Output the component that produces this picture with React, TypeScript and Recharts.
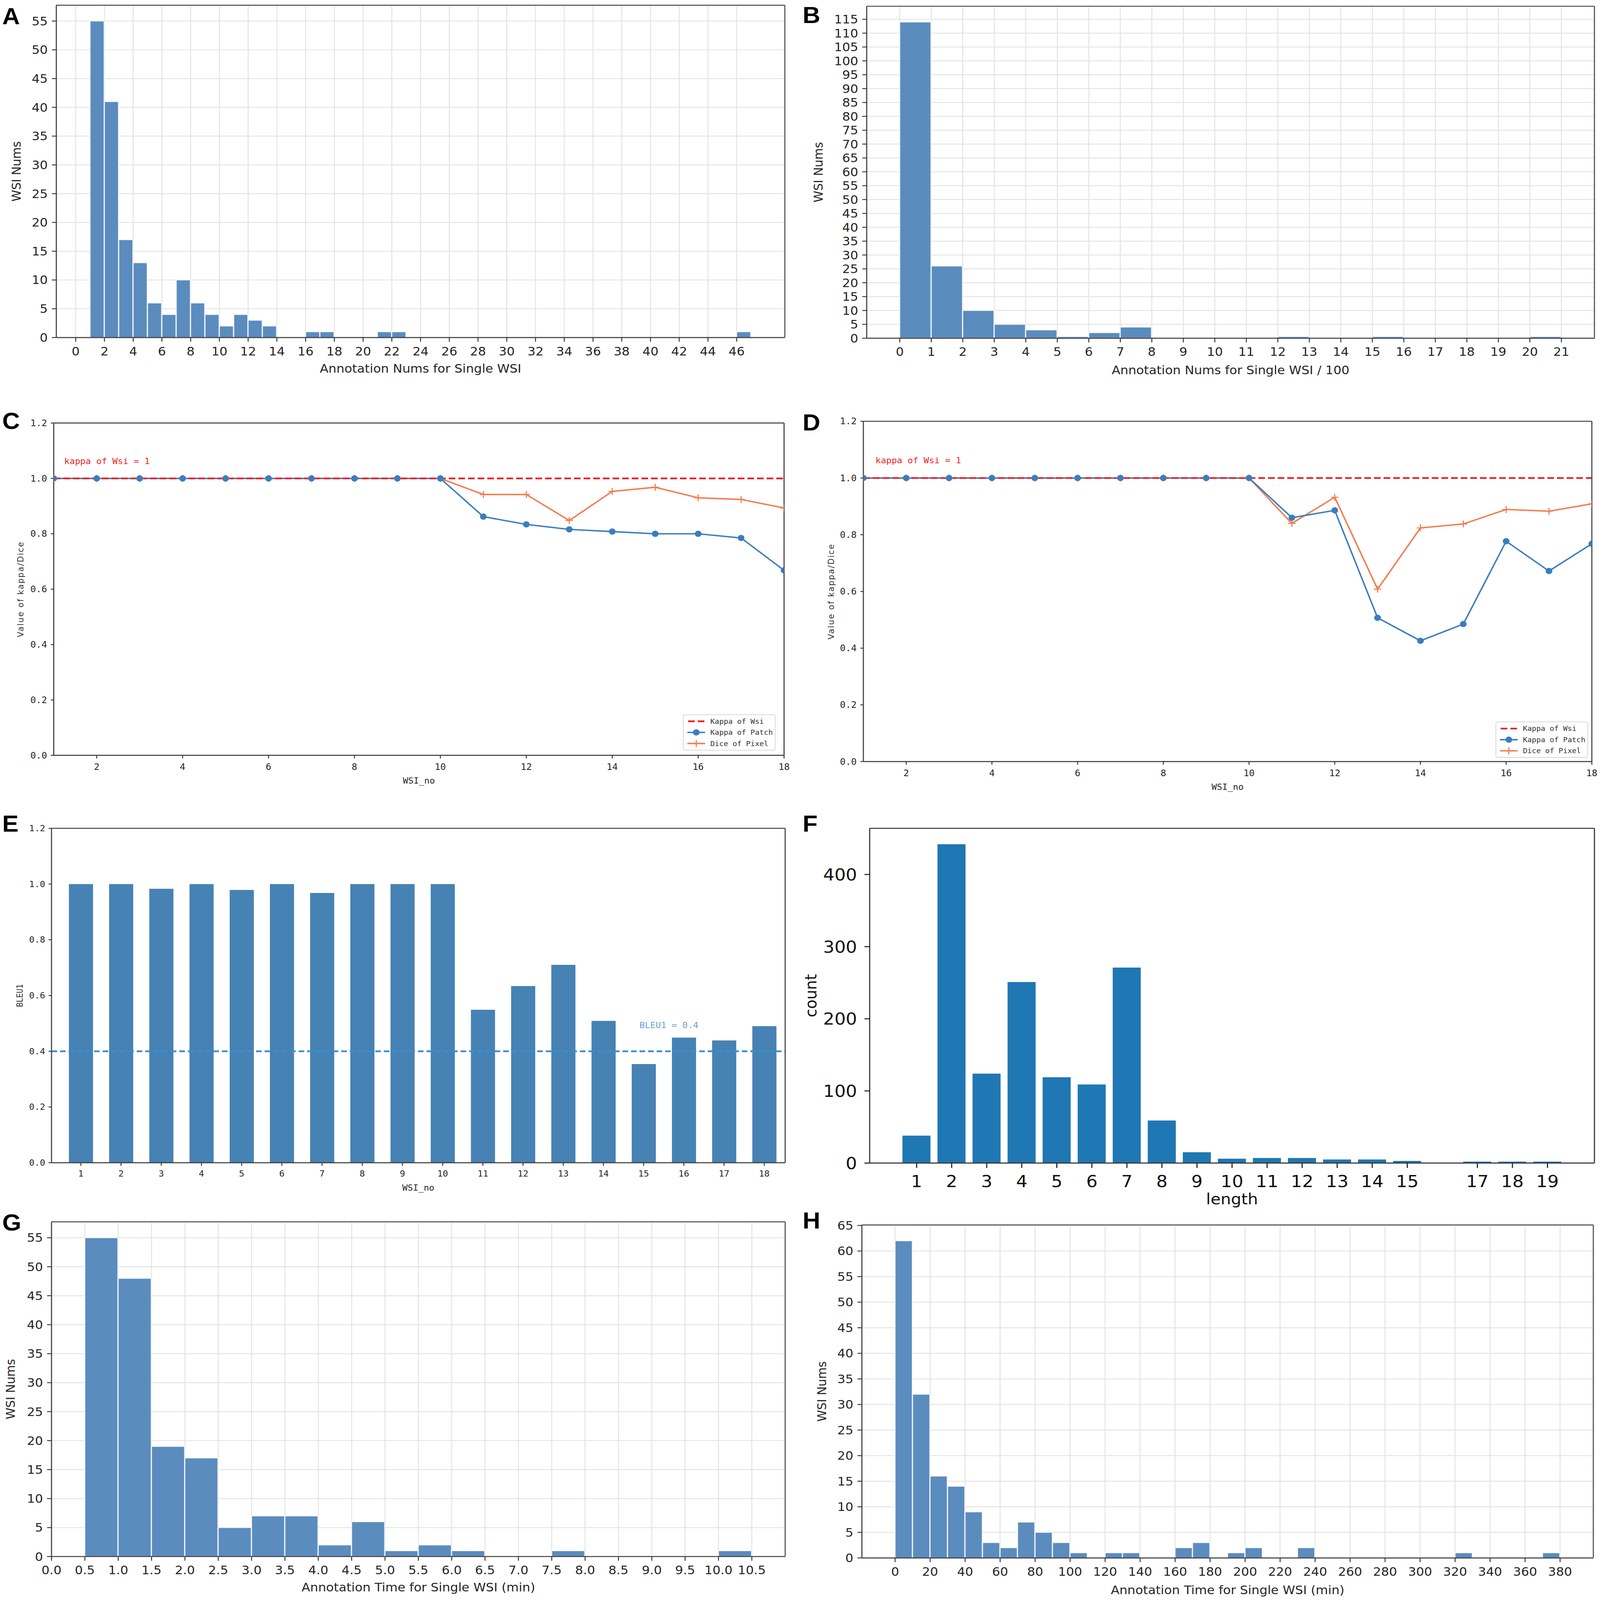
// Eight-panel figure: annotation histograms (A, B, G, H), kappa/dice lines (C, D),
// BLEU1 bars (E) and caption length counts (F).
import React from 'react';
import {
  BarChart,
  Bar,
  LineChart,
  Line,
  XAxis,
  YAxis,
  CartesianGrid,
  ReferenceLine,
  ReferenceDot,
  Legend,
} from 'recharts';

// ── data ────────────────────────────────────────────────────────────
// A: annotation nums per WSI (bin width 1)
const aBinStart = [1, 2, 3, 4, 5, 6, 7, 8, 9, 10, 11, 12, 13, 16, 17, 21, 22, 46];
const aCounts = [55, 41, 17, 13, 6, 4, 10, 6, 4, 2, 4, 3, 2, 1, 1, 1, 1, 1];
const aXTicks = [0, 2, 4, 6, 8, 10, 12, 14, 16, 18, 20, 22, 24, 26, 28, 30, 32, 34, 36, 38, 40, 42, 44, 46];
const aYTicks = [0, 5, 10, 15, 20, 25, 30, 35, 40, 45, 50, 55];

// B: annotation nums / 100 (bin width 1)
const bBinStart = [0, 1, 2, 3, 4, 5, 6, 7, 12, 15, 20];
const bCounts = [114, 26, 10, 5, 3, 0.6, 2, 4, 0.6, 0.6, 0.6];
const bXTicks = [0, 1, 2, 3, 4, 5, 6, 7, 8, 9, 10, 11, 12, 13, 14, 15, 16, 17, 18, 19, 20, 21];
const bYTicks = [0, 5, 10, 15, 20, 25, 30, 35, 40, 45, 50, 55, 60, 65, 70, 75, 80, 85, 90, 95, 100, 105, 110, 115];

// C / D: kappa & dice per WSI
const wsiNo = [1, 2, 3, 4, 5, 6, 7, 8, 9, 10, 11, 12, 13, 14, 15, 16, 17, 18];
const kappaWsi = 1;
const cPatch = [1, 1, 1, 1, 1, 1, 1, 1, 1, 1, 0.862, 0.834, 0.816, 0.808, 0.8, 0.8, 0.785, 0.668];
const cDice = [1, 1, 1, 1, 1, 1, 1, 1, 1, 1, 0.942, 0.942, 0.848, 0.953, 0.968, 0.93, 0.924, 0.893];
const dPatch = [1, 1, 1, 1, 1, 1, 1, 1, 1, 1, 0.86, 0.886, 0.507, 0.426, 0.485, 0.777, 0.672, 0.768];
const dDice = [1, 1, 1, 1, 1, 1, 1, 1, 1, 1, 0.84, 0.932, 0.608, 0.824, 0.838, 0.889, 0.883, 0.909];
const kappaXTicks = [2, 4, 6, 8, 10, 12, 14, 16, 18];
const unitYTicks = [0, 0.2, 0.4, 0.6, 0.8, 1.0, 1.2];

// E: BLEU1 per WSI
const eBleu = [1, 1, 0.983, 1, 0.979, 1, 0.968, 1, 1, 1, 0.549, 0.634, 0.71, 0.509, 0.354, 0.449, 0.439, 0.49];
const bleuThreshold = 0.4;

// F: caption length counts
const fLength = [1, 2, 3, 4, 5, 6, 7, 8, 9, 10, 11, 12, 13, 14, 15, 17, 18, 19];
const fCount = [38, 442, 124, 251, 119, 109, 271, 59, 15, 6, 7, 7, 5, 5, 3, 2, 2, 2];
const fYTicks = [0, 100, 200, 300, 400];

// G: annotation time (min), bin width 0.5
const gBinStart = [0.5, 1.0, 1.5, 2.0, 2.5, 3.0, 3.5, 4.0, 4.5, 5.0, 5.5, 6.0, 7.5, 10.0];
const gCounts = [55, 48, 19, 17, 5, 7, 7, 2, 6, 1, 2, 1, 1, 1];
const gXTicks = [0, 0.5, 1, 1.5, 2, 2.5, 3, 3.5, 4, 4.5, 5, 5.5, 6, 6.5, 7, 7.5, 8, 8.5, 9, 9.5, 10, 10.5];
const gYTicks = [0, 5, 10, 15, 20, 25, 30, 35, 40, 45, 50, 55];

// H: annotation time (min), bin width 10
const hBinStart = [0, 10, 20, 30, 40, 50, 60, 70, 80, 90, 100, 120, 130, 160, 170, 190, 200, 230, 320, 370];
const hCounts = [62, 32, 16, 14, 9, 3, 2, 7, 5, 3, 1, 1, 1, 2, 3, 1, 2, 2, 1, 1];
const hXTicks = [0, 20, 40, 60, 80, 100, 120, 140, 160, 180, 200, 220, 240, 260, 280, 300, 320, 340, 360, 380];
const hYTicks = [0, 5, 10, 15, 20, 25, 30, 35, 40, 45, 50, 55, 60, 65];

// ── styling ─────────────────────────────────────────────────────────
const FIG_W = 4318;
const FIG_H = 4603;
const SANS = "'DejaVu Sans', sans-serif";
const MONO = "'DejaVu Sans Mono', monospace";
const HIST_BLUE = '#5b8cbe';
const BLUE = '#3a7dbf';
const ORANGE = '#f47c50';
const RED = '#ee2228';
const INK = '#262626';

const MT = 24;
const MR = 10;
const MB = 16;

type Plot = [number, number, number, number];

function frameBox(plot: Plot, yw: number, xh: number) {
  const [x0, y0, x1, y1] = plot;
  return {
    left: x0 - yw,
    top: y0 - MT,
    width: x1 - x0 + yw + MR,
    height: y1 - y0 + MT + xh + MB,
  };
}

interface HistProps {
  plot: Plot;
  yw: number;
  xh: number;
  yOff: number;
  xDomain: [number, number];
  yDomain: [number, number];
  xTicks: number[];
  yTicks: number[];
  xFmt?: (v: number) => string;
  starts: number[];
  counts: number[];
  binWidth: number;
  xLabel: string;
  yLabel: string;
}

function Histogram(p: HistProps) {
  const b = frameBox(p.plot, p.yw, p.xh);
  const data = p.starts.map((s, i) => ({ mid: s + p.binWidth / 2, n: p.counts[i] }));
  const plotW = p.plot[2] - p.plot[0];
  const binPx = (plotW * p.binWidth) / (p.xDomain[1] - p.xDomain[0]);
  const tick = { fontSize: 34, fill: INK, fontFamily: SANS };
  return (
    <div style={{ position: 'absolute', left: b.left, top: b.top }}>
      <BarChart width={b.width} height={b.height} data={data} margin={{ top: MT, right: MR, bottom: MB, left: 0 }}>
        <CartesianGrid stroke="#e3e3e3" strokeWidth={2.5} />
        <XAxis
          type="number"
          dataKey="mid"
          domain={p.xDomain}
          allowDataOverflow
          ticks={p.xTicks}
          interval={0}
          tickFormatter={p.xFmt}
          height={p.xh}
          tick={tick}
          tickSize={12}
          tickMargin={15}
          tickLine={{ stroke: '#333', strokeWidth: 2.5 }}
          axisLine={{ stroke: '#444', strokeWidth: 3 }}
          label={{ value: p.xLabel, position: 'insideBottom', offset: 0, fontSize: 34, fill: INK, fontFamily: SANS }}
        />
        <YAxis
          type="number"
          domain={p.yDomain}
          allowDataOverflow
          ticks={p.yTicks}
          interval={0}
          width={p.yw}
          tick={tick}
          tickSize={12}
          tickMargin={11}
          tickLine={{ stroke: '#333', strokeWidth: 2.5 }}
          axisLine={{ stroke: '#444', strokeWidth: 3 }}
          label={{
            value: p.yLabel,
            angle: -90,
            position: 'insideLeft',
            offset: p.yOff,
            fontSize: 34,
            fill: INK,
            fontFamily: SANS,
            style: { textAnchor: 'middle' },
          }}
        />
        <Bar
          dataKey="n"
          fill={HIST_BLUE}
          stroke="#ffffff"
          strokeOpacity={0.8}
          strokeWidth={2.5}
          barSize={binPx - 1}
          isAnimationActive={false}
        />
        <ReferenceLine y={p.yDomain[1]} stroke="#555" strokeWidth={3} ifOverflow="visible" />
        <ReferenceLine x={p.xDomain[1]} stroke="#555" strokeWidth={3} ifOverflow="visible" />
      </BarChart>
    </div>
  );
}

// ── kappa / dice line panels ────────────────────────────────────────
const circleDot = (props: any) => {
  const { cx, cy, index } = props;
  if (cx == null || cy == null) return <g key={`c${index}`} />;
  return <circle key={`c${index}`} cx={cx} cy={cy} r={9} fill={BLUE} />;
};

const plusDot = (props: any) => {
  const { cx, cy, index } = props;
  if (cx == null || cy == null) return <g key={`p${index}`} />;
  return (
    <path
      key={`p${index}`}
      d={`M${cx - 10},${cy}h20M${cx},${cy - 10}v20`}
      stroke={ORANGE}
      strokeWidth={3}
      fill="none"
    />
  );
};

function KappaLegend() {
  const rows = [
    {
      label: 'Kappa of Wsi',
      icon: <path d="M4,12h18M30,12h18" stroke={RED} strokeWidth={5} />,
    },
    {
      label: 'Kappa of Patch',
      icon: (
        <g>
          <path d="M2,12h48" stroke={BLUE} strokeWidth={4} />
          <circle cx={26} cy={12} r={9} fill={BLUE} />
        </g>
      ),
    },
    {
      label: 'Dice of Pixel',
      icon: (
        <g>
          <path d="M2,12h48" stroke={ORANGE} strokeWidth={4} />
          <path d="M16,12h20M26,2v20" stroke={ORANGE} strokeWidth={3} />
        </g>
      ),
    },
  ];
  return (
    <div
      style={{
        border: '2px solid #d6d6d6',
        borderRadius: 6,
        background: 'rgba(255,255,255,0.85)',
        padding: '2px 8px',
        boxSizing: 'border-box',
        fontFamily: MONO,
        fontSize: 20,
        color: '#333',
      }}
    >
      {rows.map((r) => (
        <div key={r.label} style={{ display: 'flex', alignItems: 'center', height: 32 }}>
          <svg width={52} height={24} style={{ flex: 'none' }}>
            {r.icon}
          </svg>
          <span style={{ marginLeft: 12, whiteSpace: 'nowrap' }}>{r.label}</span>
        </div>
      ))}
    </div>
  );
}

interface KappaProps {
  plot: Plot;
  yw: number;
  xh: number;
  yOff: number;
  patch: number[];
  dice: number[];
  legendAt: [number, number];
  noteAt: [number, number];
}

function KappaPanel(p: KappaProps) {
  const b = frameBox(p.plot, p.yw, p.xh);
  const data = wsiNo.map((x, i) => ({ x, patch: p.patch[i], dice: p.dice[i] }));
  const tick = { fontSize: 25, fill: INK, fontFamily: MONO };
  return (
    <div style={{ position: 'absolute', left: b.left, top: b.top }}>
      <LineChart width={b.width} height={b.height} data={data} margin={{ top: MT, right: MR, bottom: MB, left: 0 }}>
        <XAxis
          type="number"
          dataKey="x"
          domain={[1, 18]}
          allowDataOverflow
          ticks={kappaXTicks}
          interval={0}
          height={p.xh}
          tick={tick}
          tickSize={9}
          tickMargin={15}
          tickLine={{ stroke: '#333', strokeWidth: 2.5 }}
          axisLine={{ stroke: '#444', strokeWidth: 3 }}
          label={{ value: 'WSI_no', position: 'insideBottom', offset: 0, fontSize: 24, fill: INK, fontFamily: MONO }}
        />
        <YAxis
          type="number"
          domain={[0, 1.2]}
          allowDataOverflow
          ticks={unitYTicks}
          interval={0}
          width={p.yw}
          tickFormatter={(v: number) => v.toFixed(1)}
          tick={tick}
          tickSize={8}
          tickMargin={10}
          tickLine={{ stroke: '#333', strokeWidth: 2.5 }}
          axisLine={{ stroke: '#444', strokeWidth: 3 }}
          label={{
            value: 'Value of kappa/Dice',
            angle: -90,
            position: 'insideLeft',
            offset: p.yOff,
            fontSize: 23,
            letterSpacing: 2.5,
            fill: '#333',
            fontFamily: SANS,
            style: { textAnchor: 'middle' },
          }}
        />
        <Line dataKey="dice" stroke={ORANGE} strokeWidth={4} dot={plusDot} isAnimationActive={false} />
        <Line dataKey="patch" stroke={BLUE} strokeWidth={4} dot={circleDot} isAnimationActive={false} />
        <ReferenceLine y={kappaWsi} stroke={RED} strokeWidth={5} strokeDasharray="18 8" />
        <ReferenceDot
          x={p.noteAt[0]}
          y={p.noteAt[1]}
          r={0}
          fill="none"
          stroke="none"
          label={{ value: 'kappa of Wsi = 1', position: 'right', fontSize: 24, fill: RED, fontFamily: MONO }}
        />
        <ReferenceLine y={1.2} stroke="#444" strokeWidth={3} ifOverflow="visible" />
        <ReferenceLine x={18} stroke="#444" strokeWidth={3} ifOverflow="visible" />
        <Legend
          layout="vertical"
          align="center"
          verticalAlign="middle"
          wrapperStyle={{ left: p.legendAt[0], top: p.legendAt[1], width: 250 }}
          content={() => <KappaLegend />}
        />
      </LineChart>
    </div>
  );
}

// ── E: BLEU1 bars ───────────────────────────────────────────────────
function BleuPanel() {
  const plot: Plot = [139, 2383, 2119, 3345];
  const yw = 139;
  const xh = 80;
  const b = frameBox(plot, yw, xh);
  const xDomain: [number, number] = [0.27, 18.52];
  const data = wsiNo.map((x, i) => ({ x, bleu: eBleu[i] }));
  const barPx = (0.6 * (plot[2] - plot[0])) / (xDomain[1] - xDomain[0]);
  const tick = { fontSize: 24, fill: INK, fontFamily: MONO };
  return (
    <div style={{ position: 'absolute', left: b.left, top: b.top }}>
      <BarChart width={b.width} height={b.height} data={data} margin={{ top: MT, right: MR, bottom: MB, left: 0 }}>
        <XAxis
          type="number"
          dataKey="x"
          domain={xDomain}
          allowDataOverflow
          ticks={wsiNo}
          interval={0}
          height={xh}
          tick={tick}
          tickSize={9}
          tickMargin={14}
          tickLine={{ stroke: '#333', strokeWidth: 2.5 }}
          axisLine={{ stroke: '#444', strokeWidth: 3 }}
          label={{ value: 'WSI_no', position: 'insideBottom', offset: 0, fontSize: 24, fill: INK, fontFamily: MONO }}
        />
        <YAxis
          type="number"
          domain={[0, 1.2]}
          allowDataOverflow
          ticks={unitYTicks}
          interval={0}
          width={yw}
          tickFormatter={(v: number) => v.toFixed(1)}
          tick={tick}
          tickSize={8}
          tickMargin={9}
          tickLine={{ stroke: '#333', strokeWidth: 2.5 }}
          axisLine={{ stroke: '#444', strokeWidth: 3 }}
          label={{
            value: 'BLEU1',
            angle: -90,
            position: 'insideLeft',
            offset: 53,
            fontSize: 22,
            fill: INK,
            fontFamily: MONO,
            style: { textAnchor: 'middle' },
          }}
        />
        <Bar dataKey="bleu" fill="#4682b4" barSize={barPx} isAnimationActive={false} />
        <ReferenceLine y={bleuThreshold} stroke="#3c8dcc" strokeWidth={5} strokeDasharray="15 8" />
        <ReferenceDot
          x={14.85}
          y={0.493}
          r={0}
          fill="none"
          stroke="none"
          label={{ value: 'BLEU1 = 0.4', position: 'right', fontSize: 24, fill: '#6aa0d4', fontFamily: MONO }}
        />
        <ReferenceLine y={1.2} stroke="#444" strokeWidth={3} ifOverflow="visible" />
        <ReferenceLine x={xDomain[1]} stroke="#444" strokeWidth={3} ifOverflow="visible" />
      </BarChart>
    </div>
  );
}

// ── F: length counts ────────────────────────────────────────────────
function LengthPanel() {
  const plot: Plot = [2347, 2383, 4303, 3346];
  const yw = 182;
  const xh = 119;
  const b = frameBox(plot, yw, xh);
  const xDomain: [number, number] = [-0.34, 20.34];
  const yDomain: [number, number] = [0, 464];
  const data = fLength.map((x, i) => ({ x, count: fCount[i] }));
  const barPx = (0.8 * (plot[2] - plot[0])) / (xDomain[1] - xDomain[0]);
  const tick = { fontSize: 48, fill: '#111', fontFamily: SANS };
  return (
    <div style={{ position: 'absolute', left: b.left, top: b.top }}>
      <BarChart width={b.width} height={b.height} data={data} margin={{ top: MT, right: MR, bottom: MB, left: 0 }}>
        <XAxis
          type="number"
          dataKey="x"
          domain={xDomain}
          allowDataOverflow
          ticks={fLength}
          interval={0}
          height={xh}
          tick={tick}
          tickSize={14}
          tickMargin={21}
          tickLine={{ stroke: '#222', strokeWidth: 3 }}
          axisLine={{ stroke: '#333', strokeWidth: 3 }}
          label={{ value: 'length', position: 'insideBottom', offset: 0, fontSize: 44, fill: '#111', fontFamily: SANS }}
        />
        <YAxis
          type="number"
          domain={yDomain}
          allowDataOverflow
          ticks={fYTicks}
          interval={0}
          width={yw}
          tick={tick}
          tickSize={14}
          tickMargin={20}
          tickLine={{ stroke: '#222', strokeWidth: 3 }}
          axisLine={{ stroke: '#333', strokeWidth: 3 }}
          label={{
            value: 'count',
            angle: -90,
            position: 'insideLeft',
            offset: 23,
            fontSize: 44,
            fill: '#111',
            fontFamily: SANS,
            style: { textAnchor: 'middle' },
          }}
        />
        <Bar dataKey="count" fill="#1f77b4" barSize={barPx} isAnimationActive={false} />
        <ReferenceLine y={yDomain[1]} stroke="#333" strokeWidth={3} ifOverflow="visible" />
        <ReferenceLine x={xDomain[1]} stroke="#333" strokeWidth={3} ifOverflow="visible" />
      </BarChart>
    </div>
  );
}

const PANEL_LETTERS: { t: string; left: number; top: number }[] = [
  { t: 'A', left: 6, top: 14 },
  { t: 'B', left: 2166, top: 10 },
  { t: 'C', left: 6, top: 1178 },
  { t: 'D', left: 2166, top: 1182 },
  { t: 'E', left: 6, top: 2336 },
  { t: 'F', left: 2166, top: 2336 },
  { t: 'G', left: 6, top: 3484 },
  { t: 'H', left: 2166, top: 3478 },
];

export default function App() {
  // fit the whole figure into whatever viewport the page actually gets
  const vw = typeof window !== 'undefined' && window.innerWidth ? window.innerWidth : FIG_W;
  const vh = typeof window !== 'undefined' && window.innerHeight ? window.innerHeight : FIG_H;
  const sx = vw / FIG_W;
  const sy = vh / FIG_H;
  return (
    <>
      <style>{'html,body{margin:0;padding:0;overflow:hidden;background:#fff}.recharts-surface{overflow:visible}'}</style>
      <div
        style={{
          position: 'absolute',
          left: 0,
          top: 0,
          width: FIG_W,
          height: FIG_H,
          background: '#ffffff',
          overflow: 'hidden',
          transformOrigin: '0 0',
          transform: `scale(${sx}, ${sy})`,
        }}
      >
        <Histogram
          plot={[152, 15, 2118, 971]}
          yw={152}
          xh={101}
          yOff={44}
          xDomain={[-1.35, 49.35]}
          yDomain={[0, 57.75]}
          xTicks={aXTicks}
          yTicks={aYTicks}
          starts={aBinStart}
          counts={aCounts}
          binWidth={1}
          xLabel="Annotation Nums for Single WSI"
          yLabel="WSI Nums"
        />
        <Histogram
          plot={[2339, 18, 4303, 973]}
          yw={159}
          xh={104}
          yOff={28}
          xDomain={[-1.05, 22.05]}
          yDomain={[0, 119.7]}
          xTicks={bXTicks}
          yTicks={bYTicks}
          starts={bBinStart}
          counts={bCounts}
          binWidth={1}
          xLabel="Annotation Nums for Single WSI / 100"
          yLabel="WSI Nums"
        />
        <KappaPanel
          plot={[145, 1217, 2116, 2173]}
          yw={145}
          xh={81}
          yOff={55}
          patch={cPatch}
          dice={cDice}
          legendAt={[1843, 862]}
          noteAt={[1.2, 1.063]}
        />
        <KappaPanel
          plot={[2330, 1212, 4296, 2191]}
          yw={150}
          xh={81}
          yOff={63}
          patch={dPatch}
          dice={dDice}
          legendAt={[1856, 888]}
          noteAt={[1.24, 1.063]}
        />
        <BleuPanel />
        <LengthPanel />
        <Histogram
          plot={[139, 3515, 2119, 4478]}
          yw={139}
          xh={100}
          yOff={28}
          xDomain={[0, 11]}
          yDomain={[0, 57.75]}
          xTicks={gXTicks}
          yTicks={gYTicks}
          xFmt={(v: number) => v.toFixed(1)}
          starts={gBinStart}
          counts={gCounts}
          binWidth={0.5}
          xLabel="Annotation Time for Single WSI (min)"
          yLabel="WSI Nums"
        />
        <Histogram
          plot={[2326, 3524, 4300, 4482]}
          yw={146}
          xh={104}
          yOff={38}
          xDomain={[-19, 399]}
          yDomain={[0, 65.1]}
          xTicks={hXTicks}
          yTicks={hYTicks}
          starts={hBinStart}
          counts={hCounts}
          binWidth={10}
          xLabel="Annotation Time for Single WSI (min)"
          yLabel="WSI Nums"
        />
        {PANEL_LETTERS.map((l) => (
          <div
            key={l.t}
            style={{
              position: 'absolute',
              left: l.left,
              top: l.top,
              fontFamily: "'Liberation Sans', Arial, sans-serif",
              fontWeight: 700,
              fontSize: 66,
              lineHeight: 1,
              color: '#000',
            }}
          >
            {l.t}
          </div>
        ))}
      </div>
    </>
  );
}
